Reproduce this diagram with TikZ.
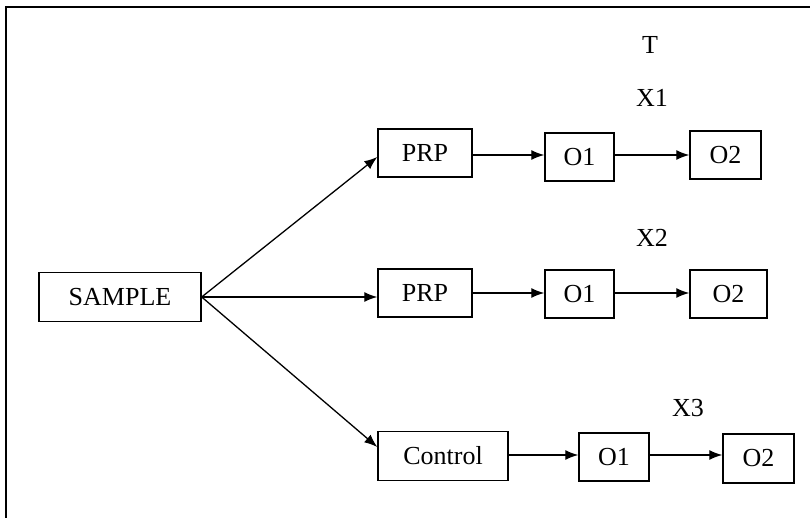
\documentclass[tikz,border=0pt]{standalone}
\usepackage{fontspec}
\setmainfont{Liberation Serif}
\usetikzlibrary{arrows.meta}
\begin{document}
\begin{tikzpicture}[x=1pt,y=-1pt,
  box/.style={draw, line width=1.4pt, inner sep=0pt, font=\fontsize{26}{30}\selectfont},
  lbl/.style={inner sep=0pt, font=\fontsize{26}{30}\selectfont},
  conn/.style={line width=1.3pt, -{Latex[length=13pt,width=10pt]}}]
\useasboundingbox (0,0) rectangle (810,518);
\begin{scope}
\clip (0,0) rectangle (810,518);
\draw[line width=2pt] (6,7) rectangle (840,560);
\end{scope}
% nodes
\node[box, minimum width=162pt, minimum height=49pt] (s) at (120,297) {SAMPLE};
\node[box, minimum width=94pt, minimum height=48pt] (p1) at (425,153) {PRP};
\node[box, minimum width=69pt, minimum height=48pt] (a1) at (579.5,157) {O1};
\node[box, minimum width=71pt, minimum height=48pt] (b1) at (725.5,155) {O2};
\node[box, minimum width=94pt, minimum height=48pt] (p2) at (425,293) {PRP};
\node[box, minimum width=69pt, minimum height=48pt] (a2) at (579.5,294) {O1};
\node[box, minimum width=77pt, minimum height=48pt] (b2) at (728.5,294) {O2};
\node[box, minimum width=130pt, minimum height=49pt] (c3) at (443,456) {Control};
\node[box, minimum width=70pt, minimum height=48pt] (a3) at (614,457) {O1};
\node[box, minimum width=71pt, minimum height=49pt] (b3) at (758.5,458.5) {O2};
% labels
\node[lbl] (t) at (650,45) {T};
\node[lbl] (x1) at (652,98) {X1};
\node[lbl] (x2) at (652,238) {X2};
\node[lbl] (x3) at (688,408) {X3};
% connectors
\draw[conn] (s.east) -- (p1.west |- 0,157);
\draw[conn] (s.east) -- (p2.west |- s.east);
\draw[conn] (s.east) -- (c3.west |- 0,447);
\draw[conn] (p1.east |- 0,155) -- (a1.west |- 0,155);
\draw[conn] (a1.east |- 0,155) -- (b1.west |- 0,155);
\draw[conn] (p2.east |- 0,293) -- (a2.west |- 0,293);
\draw[conn] (a2.east |- 0,293) -- (b2.west |- 0,293);
\draw[conn] (c3.east |- 0,455) -- (a3.west |- 0,455);
\draw[conn] (a3.east |- 0,455) -- (b3.west |- 0,455);
\end{tikzpicture}
\end{document}
